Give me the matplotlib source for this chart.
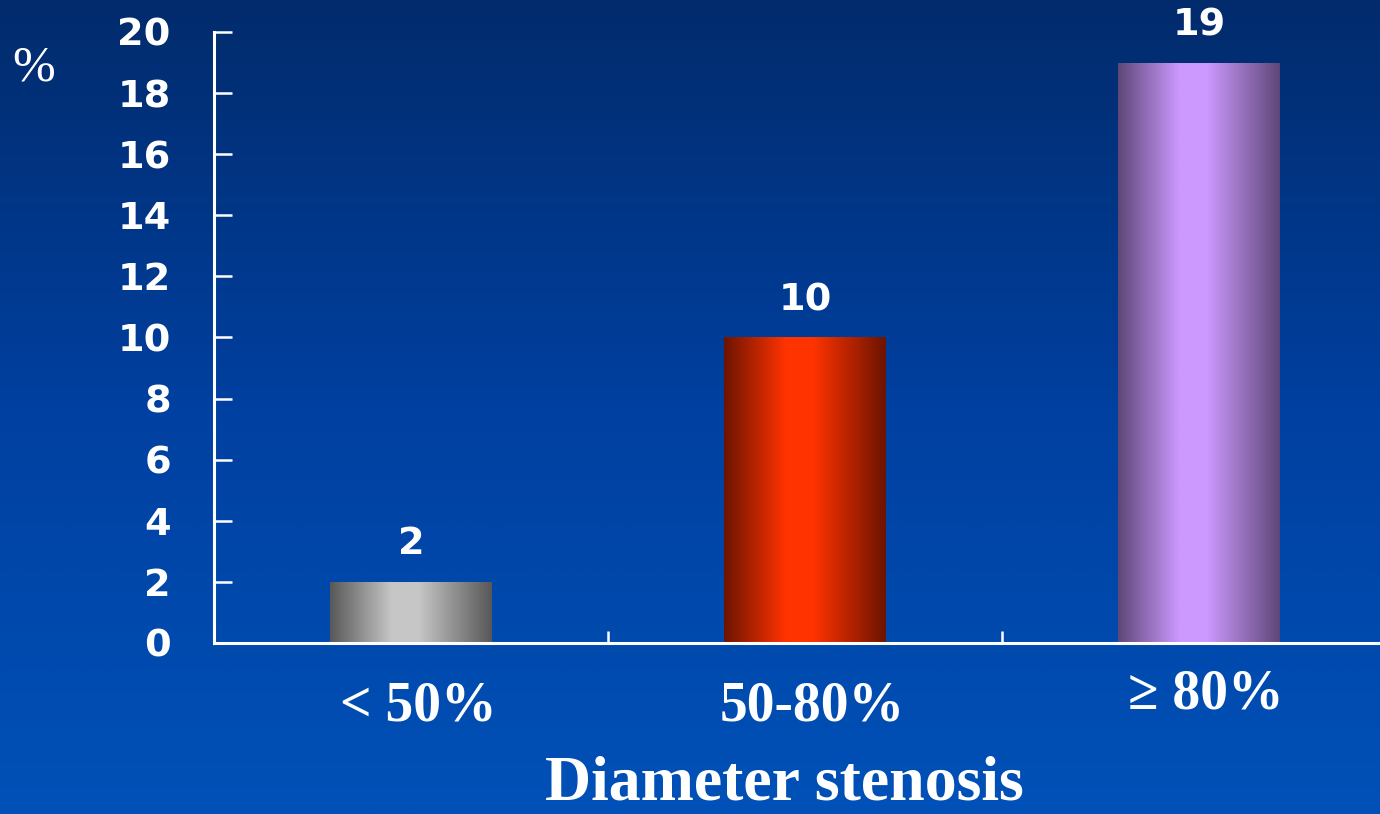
import numpy as np
import matplotlib
matplotlib.use("Agg")
import matplotlib.pyplot as plt
import matplotlib.transforms as mtransforms
from matplotlib.colors import LinearSegmentedColormap

# Data
categories = ["< 50%", "50-80%", "\u2265 80%"]
values = [2, 10, 19]
y_ticks = [0, 2, 4, 6, 8, 10, 12, 14, 16, 18, 20]
x_title = "Diameter stenosis"
y_unit = "%"

# Cylinder-style shading per bar: edge colour and highlight colour
bar_edge_colors = ["#585858", "#6c1400", "#5e4778"]
bar_light_colors = ["#c6c6c6", "#ff3300", "#cc99ff"]

SANS_BOLD = dict(family="DejaVu Sans", weight="bold")
SERIF_BOLD = dict(family="Liberation Serif", weight="bold")

fig = plt.figure(figsize=(13.8, 8.14), dpi=100)

# Vertical blue background gradient
bg = fig.add_axes([0, 0, 1, 1])
bg.axis("off")
bg_cmap = LinearSegmentedColormap.from_list("bg", ["#0051b8", "#0040a0", "#022b6c"])
bg.imshow(np.linspace(0, 1, 512).reshape(-1, 1), aspect="auto", cmap=bg_cmap,
          origin="lower", extent=[0, 1, 0, 1])
bg.set_xlim(0, 1)
bg.set_ylim(0, 1)

ax = fig.add_axes([0.155, 0.2101, 0.8565, 0.7506])
ax.patch.set_alpha(0)

x = np.arange(len(categories))
bars = ax.bar(x, values, width=0.41, color="none", edgecolor="none", zorder=2)

ramp = np.linspace(0, 1, 256).reshape(1, -1)
for bar, c_edge, c_light in zip(bars, bar_edge_colors, bar_light_colors):
    cmap = LinearSegmentedColormap.from_list(
        "cyl", [(0.0, c_edge), (0.38, c_light), (0.55, c_light), (1.0, c_edge)])
    x0 = bar.get_x()
    x1 = x0 + bar.get_width()
    img = ax.imshow(ramp, cmap=cmap, aspect="auto", extent=[x0, x1, 0, bar.get_height()],
                    zorder=2, interpolation="bilinear")
    img.set_clip_path(bar)

for xi, v in zip(x, values):
    ax.annotate(str(v), (xi, v), xytext=(0, 14), textcoords="offset points",
                ha="center", va="bottom", color="white", fontsize=27.5, **SANS_BOLD)

ax.set_xlim(-0.5, 2.5)
ax.set_ylim(0, 20)
ax.set_aspect("auto")

for side in ("top", "right"):
    ax.spines[side].set_visible(False)
for side in ("left", "bottom"):
    ax.spines[side].set_color("white")
    ax.spines[side].set_linewidth(2.2)

ax.set_yticks(y_ticks)
ax.set_yticklabels([str(t) for t in y_ticks])
ax.tick_params(axis="y", direction="in", length=13, width=1.8, colors="white",
               labelsize=27.5, pad=31)
for lab in ax.get_yticklabels():
    lab.set_fontfamily("DejaVu Sans")
    lab.set_fontweight("bold")

ax.set_xticks([0.5, 1.5])
ax.set_xticklabels([])
ax.tick_params(axis="x", which="major", direction="in", length=9, width=1.8, colors="white")
ax.set_xticks(x, minor=True)
ax.set_xticklabels(categories, minor=True)
ax.tick_params(axis="x", which="minor", length=0, labelsize=40, labelcolor="white", pad=27)
for i, lab in enumerate(ax.get_xticklabels(minor=True)):
    lab.set_fontfamily("Liberation Serif")
    lab.set_fontweight("bold")
    dy = 12 if i == 2 else 0
    lab.set_transform(lab.get_transform() +
                      mtransforms.ScaledTranslation(7 / 100, dy / 100, fig.dpi_scale_trans))

fig.text(34 / 1380, 1 - 68 / 814, y_unit, ha="center", va="center", color="white",
         fontsize=37, family="Liberation Serif")
fig.text(784 / 1380, 1 / 814, x_title, ha="center", va="bottom", color="white",
         fontsize=46, **SERIF_BOLD)

fig.savefig("out.png", dpi=100)
